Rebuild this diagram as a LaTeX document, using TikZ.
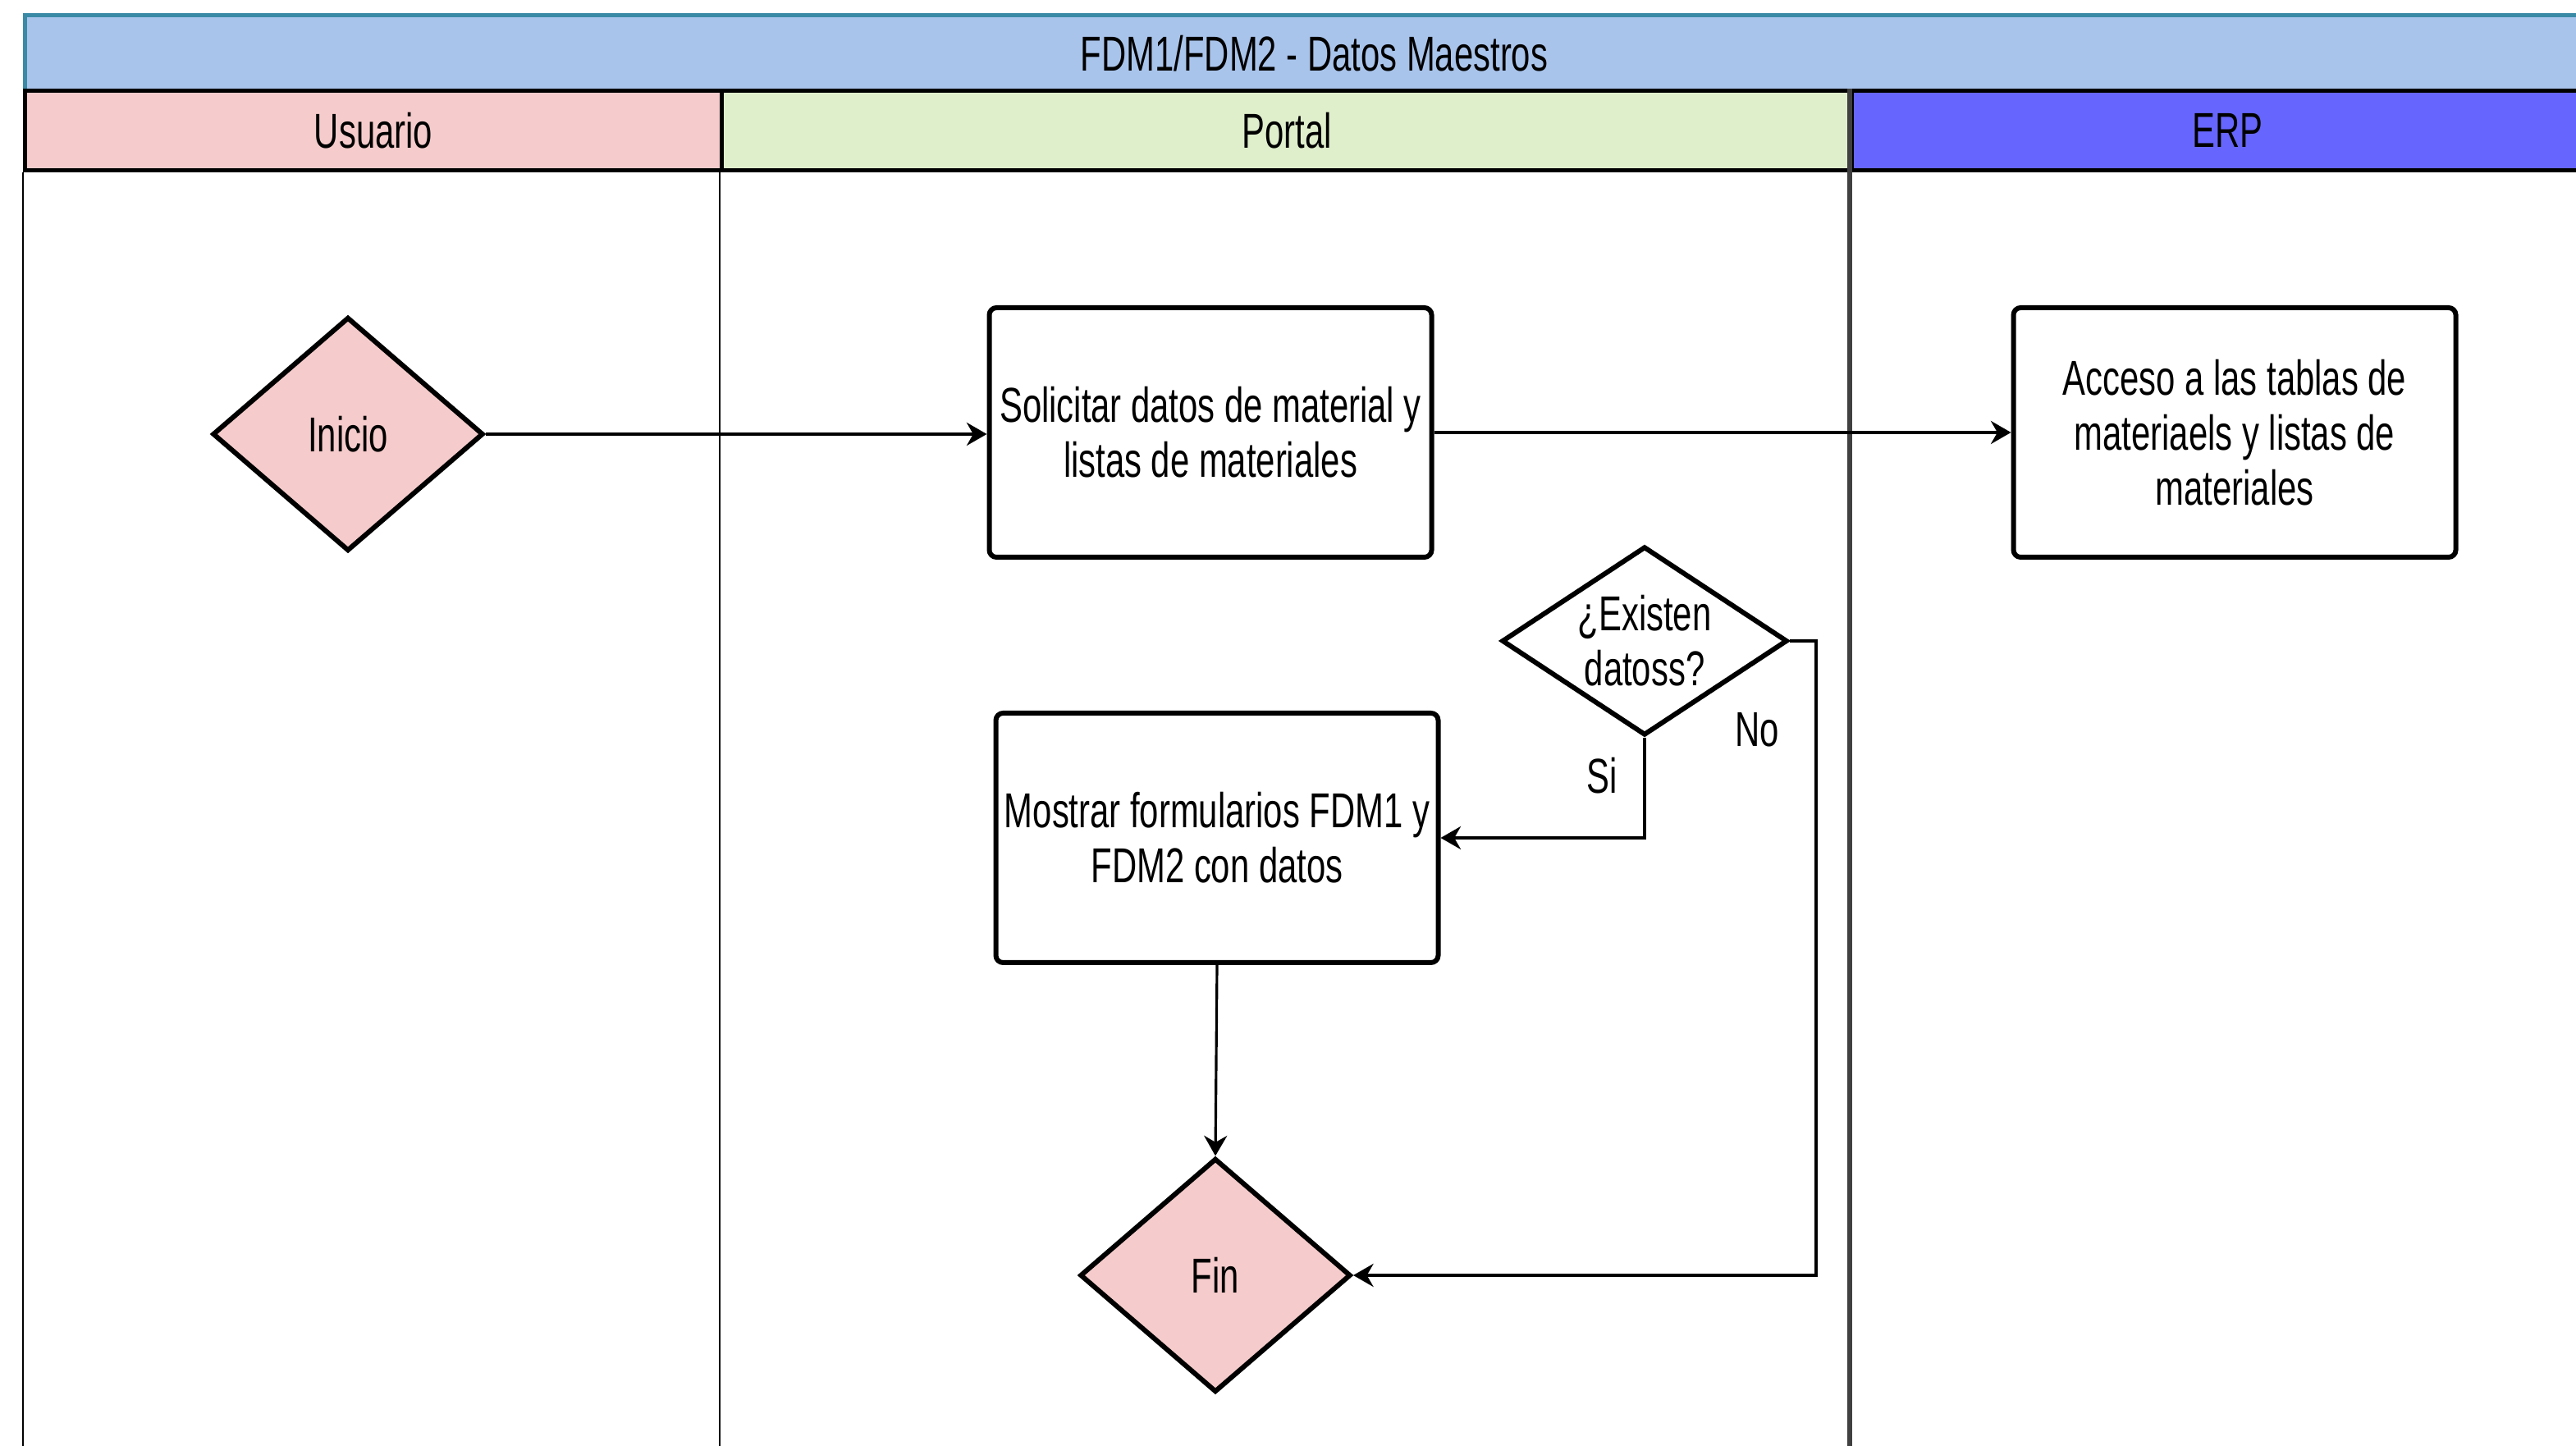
\documentclass[tikz,border=0pt]{standalone}
\usepackage{fontspec}
\setmainfont{Liberation Sans}[FakeStretch=0.70]
\usetikzlibrary{arrows.meta,positioning,shapes.geometric}
\usepackage{xcolor}
\definecolor{fdTitle}{HTML}{A9C4EB}
\definecolor{fdTeal}{HTML}{3A8AA6}
\definecolor{fdUser}{HTML}{F5CBCB}
\definecolor{fdPortal}{HTML}{DFEECB}
\definecolor{fdErp}{HTML}{6666FF}
\definecolor{fdLane}{HTML}{404040}
\tikzset{
    every picture/.style={
        font=\fontsize{17}{19}\selectfont,
        >={Stealth[length=7pt,width=8pt]}
    },
    % lane headers
    lanehead/.style={rectangle,draw=black,line width=1.4pt,anchor=north west,minimum height=0.97cm,inner sep=0pt},
    % flow nodes
    procbox/.style={rectangle,draw=black,line width=1.7pt,rounded corners=2.5pt,fill=white,minimum width=5.39cm,minimum height=3.04cm,align=center,inner sep=2pt},
    startend/.style={diamond,draw=black,line width=1.7pt,fill=fdUser,minimum width=3.3cm,minimum height=2.85cm,inner sep=0pt},
    decision/.style={diamond,draw=black,line width=1.7pt,fill=white,aspect=1.5,minimum width=3.48cm,minimum height=2.3cm,inner sep=0pt,align=center},
    flow/.style={->,line width=0.9pt,black}
}

\begin{document}
\begin{tikzpicture}
\useasboundingbox (0,0) rectangle (31.39,17.62);
\clip (0,0) rectangle (31.39,17.62);

% Title bar and lane headers
\node[rectangle,draw=fdTeal,line width=1.4pt,fill=fdTitle,anchor=north west,minimum width=31.42cm,minimum height=0.94cm,inner sep=0pt] at (0.28,17.46) (title) {FDM1/FDM2 - Datos Maestros};
\node[lanehead,fill=fdUser,minimum width=8.49cm] at (0.28,16.54) (usuario) {Usuario};
\node[lanehead,fill=fdPortal,minimum width=13.77cm] at (8.77,16.54) (portal) {Portal};
\node[lanehead,fill=fdErp,minimum width=9.16cm] at (22.54,16.54) (erp) {ERP};

% Lane borders
\draw[black,line width=0.6pt] (usuario.south west) -- ++(0,-15.6);
\draw[black,line width=0.6pt] (portal.south west) -- ++(0,-15.6);
\draw[fdLane,line width=1.7pt] (erp.north west) -- ++(0,-16.6);

% Flow nodes
\node[startend] at (4.24,12.33) (inicio) {Inicio};
\node[procbox] at (14.75,12.35) (solicitar) {Solicitar datos de material y\\listas de materiales};
\node[procbox] at (27.23,12.35) (acceso) {Acceso a las tablas de\\materiaels y listas de\\materiales};
\node[decision] at (20.04,9.81) (existen) {¿Existen\\datoss?};
\node[procbox] at (14.83,7.41) (mostrar) {Mostrar formularios FDM1 y\\FDM2 con datos};
\node[startend] at (14.81,2.08) (fin) {Fin};

% Connectors
\draw[flow] (inicio.east) -- (inicio.east -| solicitar.west);
\draw[flow] (solicitar.east) -- (solicitar.east -| acceso.west);
\draw[flow] (existen.south) |- node[pos=0.19,xshift=-0.52cm] {Si} (mostrar.east);
\draw[flow] (existen.east) -- ++(0.32,0) |- node[pos=0.07,xshift=-0.72cm] {No} (fin.east);
\draw[flow] (mostrar.south) -- (fin.north);

\end{tikzpicture}
\end{document}
